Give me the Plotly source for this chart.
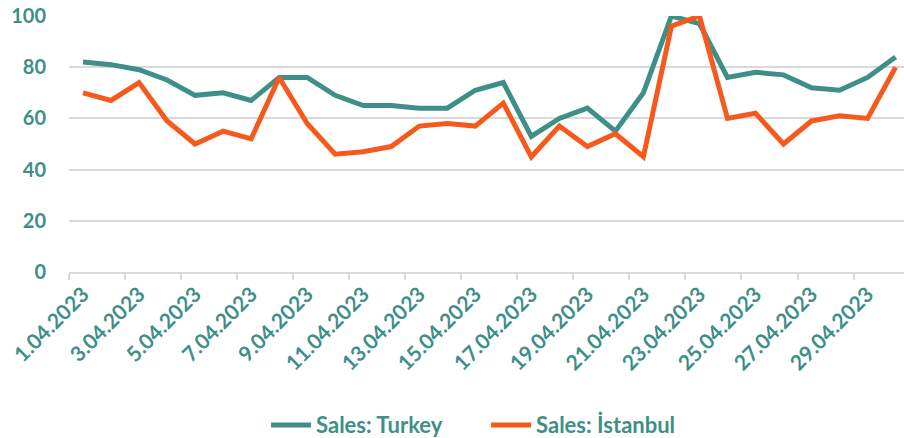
import plotly.graph_objects as go

dates = [f"{d}.04.2023" for d in range(1, 31)]
turkey = [82, 81, 79, 75, 69, 70, 67, 76, 76, 69, 65, 65, 64, 64, 71,
          74, 53, 60, 64, 55, 70, 100, 97, 76, 78, 77, 72, 71, 76, 84]
istanbul = [70, 67, 74, 59, 50, 55, 52, 76, 58, 46, 47, 49, 57, 58, 57,
            66, 45, 57, 49, 54, 45, 96, 100, 60, 62, 50, 59, 61, 60, 80]

TEAL = "#3d8f87"
ORANGE = "#f55a1c"
FONT = "Lato, 'Open Sans', sans-serif"

x = list(range(len(dates)))

fig = go.Figure()
fig.add_trace(go.Scatter(x=x, y=turkey, mode="lines", name="Sales: Turkey",
                         line=dict(color=TEAL, width=5)))
fig.add_trace(go.Scatter(x=x, y=istanbul, mode="lines", name="Sales: İstanbul",
                         line=dict(color=ORANGE, width=5)))

fig.update_layout(
    width=904, height=438,
    margin=dict(l=69, r=0, t=16, b=166, autoexpand=False),
    plot_bgcolor="white", paper_bgcolor="white",
    font=dict(family=FONT, color=TEAL, size=17),
    showlegend=True,
    legend=dict(orientation="h", x=0.236, xanchor="left", y=-0.598, yanchor="middle",
                font=dict(family=FONT, size=22, color=TEAL, weight="bold"),
                itemwidth=40, tracegroupgap=0, entrywidth=165),
    xaxis=dict(
        range=[-0.5, 29.3],
        tickmode="array", tickvals=x[::2], ticktext=dates[::2],
        tickangle=-45, ticks="", showgrid=False,
        tickfont=dict(family=FONT, size=21, color=TEAL, weight="bold"),
        showline=True, linecolor="#d9d9d9", linewidth=1.5,
        minor=dict(tickmode="linear", tick0=-0.5, dtick=2, ticks="outside",
                   ticklen=6, tickcolor="#d9d9d9", tickwidth=1.5, showgrid=False),
        zeroline=False, automargin=False,
    ),
    yaxis=dict(
        range=[0, 100], tickvals=[0, 20, 40, 60, 80, 100],
        showgrid=True, gridcolor="#d9d9d9", gridwidth=1.5,
        zeroline=False, showline=False,
        tickfont=dict(family=FONT, size=20, color=TEAL, weight="bold"),
        ticklabelstandoff=22, automargin=False,
    ),
)

fig.write_html(
    "out.html",
    config={"displayModeBar": False},
    post_script="document.body.style.margin='0';document.body.style.overflow='hidden';",
)
